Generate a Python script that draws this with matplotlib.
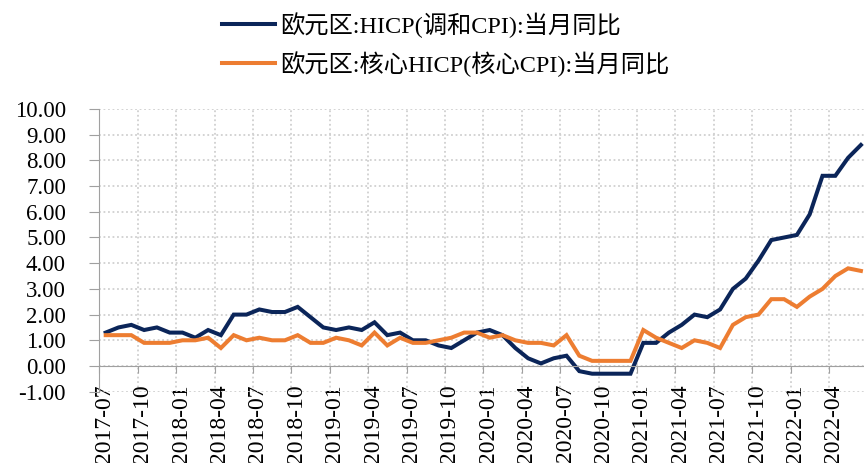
import numpy as np
import pandas as pd
import matplotlib
matplotlib.use('Agg')
import matplotlib.pyplot as plt
import matplotlib.transforms as mtransforms

plt.rcParams['font.family'] = ['Liberation Serif', 'Noto Sans CJK SC', 'DejaVu Sans']
plt.rcParams['axes.unicode_minus'] = False

# monthly, 2017-07 .. 2022-06
months = pd.date_range('2017-07-01', periods=60, freq='MS').strftime('%Y-%m').tolist()

hicp = [1.3, 1.5, 1.6, 1.4, 1.5, 1.3, 1.3, 1.1, 1.4, 1.2, 2.0, 2.0,
        2.2, 2.1, 2.1, 2.3, 1.9, 1.5, 1.4, 1.5, 1.4, 1.7, 1.2, 1.3,
        1.0, 1.0, 0.8, 0.7, 1.0, 1.3, 1.4, 1.2, 0.7, 0.3, 0.1, 0.3,
        0.4, -0.2, -0.3, -0.3, -0.3, -0.3, 0.9, 0.9, 1.3, 1.6, 2.0, 1.9,
        2.2, 3.0, 3.4, 4.1, 4.9, 5.0, 5.1, 5.9, 7.4, 7.4, 8.1, 8.6]

core = [1.2, 1.2, 1.2, 0.9, 0.9, 0.9, 1.0, 1.0, 1.1, 0.7, 1.2, 1.0,
        1.1, 1.0, 1.0, 1.2, 0.9, 0.9, 1.1, 1.0, 0.8, 1.3, 0.8, 1.1,
        0.9, 0.9, 1.0, 1.1, 1.3, 1.3, 1.1, 1.2, 1.0, 0.9, 0.9, 0.8,
        1.2, 0.4, 0.2, 0.2, 0.2, 0.2, 1.4, 1.1, 0.9, 0.7, 1.0, 0.9,
        0.7, 1.6, 1.9, 2.0, 2.6, 2.6, 2.3, 2.7, 3.0, 3.5, 3.8, 3.7]

labels = ['欧元区:HICP(调和CPI):当月同比', '欧元区:核心HICP(核心CPI):当月同比']
colors = ['#0B2559', '#ED7D31']

fig = plt.figure(figsize=(8.64, 4.63), dpi=100)
ax = fig.add_axes([99.3 / 864, 0.154, 768 / 864, 0.6106])

x = np.arange(len(months))
ax.plot(x, hicp, color=colors[0], lw=2.9, label=labels[0], solid_joinstyle='miter')
ax.plot(x, core, color=colors[1], lw=2.9, label=labels[1], solid_joinstyle='miter')

# spine position first: moving it resets the tick labels
for s in ['top', 'right']:
    ax.spines[s].set_visible(False)
ax.spines['bottom'].set_position(('data', 0))
ax.spines['bottom'].set_color('#A0A0A0')
ax.spines['left'].set_color('#A0A0A0')

ax.set_xlim(-0.5, len(months) - 0.5)
ax.set_ylim(-1, 10)

xt = np.arange(0, len(months), 3)
ax.set_xticks(xt - 0.5)
ax.set_xticklabels([months[i] for i in xt], rotation=90, fontsize=17)
yt = np.arange(-1, 11, 1)
ax.set_yticks(yt)
ax.set_yticklabels(['%.2f' % v for v in yt], fontsize=16.5)

ax.grid(True, color='#D0D0D0', linestyle=(0, (1, 1.5)), lw=1.3)
ax.set_axisbelow(True)

ax.tick_params(axis='x', length=5, color='#A0A0A0', pad=8)
ax.tick_params(axis='y', length=7, color='#A0A0A0', pad=17)

# date labels sit a little right of their ticks
shift = mtransforms.ScaledTranslation(5 / 100, 0, fig.dpi_scale_trans)
for t in ax.get_xticklabels():
    t.set_transform(t.get_transform() + shift)

fig.legend(loc='upper left', bbox_to_anchor=(222 / 864, 1 - 12 / 463),
           frameon=False, fontsize=17.5, handlelength=2.2, handletextpad=0.2,
           labelspacing=0.55, borderpad=0, borderaxespad=0)

fig.savefig('out.png', dpi=100)
